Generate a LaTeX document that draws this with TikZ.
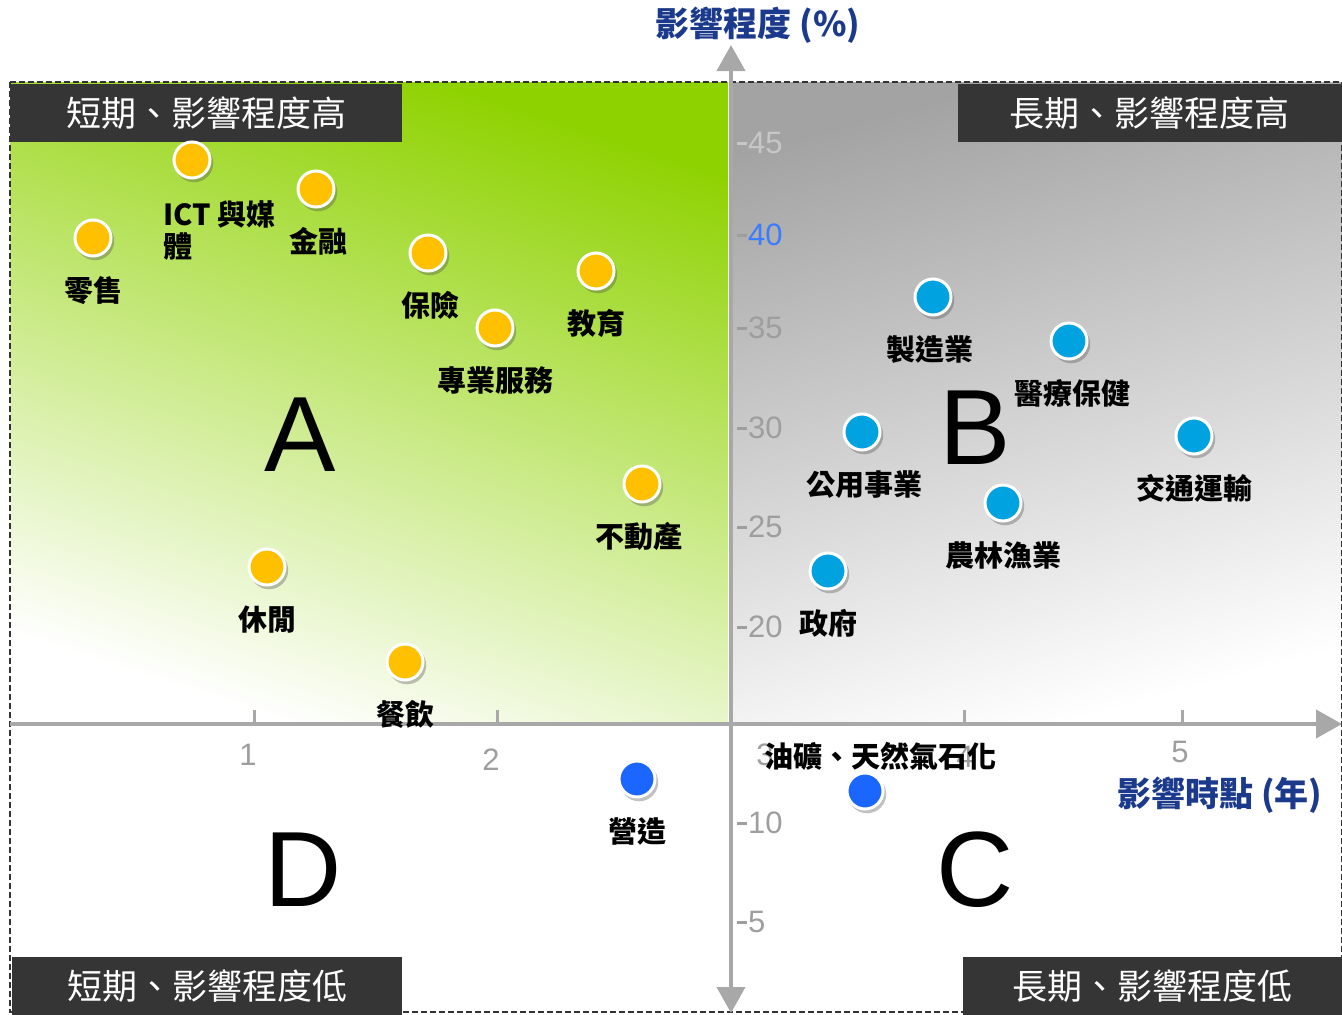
\documentclass[tikz,border=0pt]{standalone}
\usepackage{fontspec}
\setmainfont{Liberation Sans}
\newfontfamily\cjk{Noto Sans CJK TC}
\usetikzlibrary{positioning,shadows,arrows.meta}

\definecolor{dotyellow}{HTML}{FFC000}
\definecolor{dotcyan}{HTML}{00A3DF}
\definecolor{dotblue}{HTML}{1A66FF}
\definecolor{axisgray}{HTML}{A8A8A8}
\definecolor{titleblue}{HTML}{1B3A8C}
\definecolor{boxdark}{HTML}{353535}
\definecolor{leafgreen}{HTML}{8ED200}
\definecolor{tickblue}{HTML}{3B7BFF}

\begin{document}
\begin{tikzpicture}[
    x=1pt, y=-1pt,
    dot/.style={
        circle,
        minimum size=36pt,
        inner sep=0pt,
        draw=white,
        line width=3pt,
        drop shadow={shadow xshift=2pt, shadow yshift=-3pt, shadow scale=1.06, opacity=0.35, fill=black!70}
    },
    lab/.style={inner sep=0pt, font=\cjk\bfseries\fontsize{29}{32}\selectfont},
    quadbox/.style={
        fill=boxdark,
        text=white,
        minimum height=58pt,
        inner sep=0pt,
        font=\cjk\fontsize{35}{38}\selectfont
    },
    letter/.style={inner sep=0pt, font=\fontsize{107}{110}\selectfont},
    axtitle/.style={inner sep=0pt, text=titleblue, font=\cjk\bfseries\fontsize{34}{38}\selectfont},
    ticklab/.style={inner sep=0pt, text=black!38, font=\fontsize{31}{33}\selectfont},
    axis/.style={draw=axisgray, line width=4pt},
    tip/.tip={Triangle[width=28pt, length=26pt]}
]

\useasboundingbox (0,0) rectangle (1342,1015);

% Quadrant backgrounds
\shade[top color=leafgreen, bottom color=white, shading angle=-18] (10,82) rectangle (728,724);
\shade[top color=black!36, bottom color=white, shading angle=15] (730,82) rectangle (1342,724);
\draw[black!80, line width=2pt, dash pattern=on 6pt off 3pt] (10,82) rectangle (1342,1012);

% Axes
\coordinate (xstart) at (10,724);
\coordinate (xend) at (1342,724);
\coordinate (ybottom) at (731,1013);
\coordinate (ytop) at (731,45);
\draw[axis, -tip] (xstart) -- (xend);
\draw[axis, tip-tip] (ybottom) -- (ytop);

% Ticks on the time axis
\draw[axisgray, line width=3pt] (254,710) -- (254,724);
\draw[axisgray, line width=3pt] (497,710) -- (497,724);
\draw[axisgray, line width=3pt] (964,710) -- (964,724);
\draw[axisgray, line width=3pt] (1182,710) -- (1182,724);
\node[ticklab] (xt1) at (248,755) {1};
\node[ticklab] (xt2) at (491,760) {2};
\node[ticklab] (xt3) at (765,755) {3};
\node[ticklab] (xt4) at (965,757) {4};
\node[ticklab] (xt5) at (1180,752) {5};

% Ticks on the degree axis
\draw[black!22, line width=3pt] (737,143) -- (747,143);
\draw[black!38, line width=3pt] (737,235) -- (747,235);
\draw[black!38, line width=3pt] (737,328) -- (747,328);
\draw[black!38, line width=3pt] (737,428) -- (747,428);
\draw[black!38, line width=3pt] (737,527) -- (747,527);
\draw[black!38, line width=3pt] (737,627) -- (747,627);
\draw[black!38, line width=3pt] (737,823) -- (747,823);
\draw[black!38, line width=3pt] (737,922) -- (747,922);
\node[ticklab, anchor=west, text=black!22] (yt45) at (748,143) {45};
\node[ticklab, anchor=west, text=tickblue] (yt40) at (748,235) {40};
\node[ticklab, anchor=west] (yt35) at (748,328) {35};
\node[ticklab, anchor=west] (yt30) at (748,428) {30};
\node[ticklab, anchor=west] (yt25) at (748,527) {25};
\node[ticklab, anchor=west] (yt20) at (748,627) {20};
\node[ticklab, anchor=west] (yt10) at (748,823) {10};
\node[ticklab, anchor=west] (yt5) at (748,922) {5};

% Axis titles
\node[axtitle] (ytitle) at (758,25) {影響程度 (\%)};
\node[axtitle] (xtitle) at (1220,795) {影響時點 (年)};

% Corner boxes
\node[quadbox, minimum width=392pt, anchor=north west] (qhighshort) at (10,84) {短期、影響程度高};
\node[quadbox, minimum width=384pt, anchor=north east] (qhighlong) at (1342,84) {長期、影響程度高};
\node[quadbox, minimum width=390pt, anchor=south west] (qlowshort) at (12,1015) {短期、影響程度低};
\node[quadbox, minimum width=379pt, anchor=south east] (qlowlong) at (1342,1015) {長期、影響程度低};

% Quadrant letters
\node[letter] (qa) at (300,435) {A};
\node[letter] (qb) at (975,428) {B};
\node[letter] (qc) at (975,870) {C};
\node[letter] (qd) at (303,870) {D};

% Short term, high impact
\node[dot, fill=dotyellow] (retail) at (93,238) {};
\node[lab, below=19pt of retail] (retaillab) {零售};
\node[dot, fill=dotyellow] (ict) at (192,160) {};
\node[lab, align=left, anchor=west] (ictlab) at (163,231) {ICT 與媒\\體};
\node[dot, fill=dotyellow] (finance) at (316,189) {};
\node[lab, below=19pt of finance, xshift=2pt] (financelab) {金融};
\node[dot, fill=dotyellow] (insure) at (428,253) {};
\node[lab, below=19pt of insure, xshift=2pt] (insurelab) {保險};
\node[dot, fill=dotyellow] (service) at (495,328) {};
\node[lab, below=19pt of service] (servicelab) {專業服務};
\node[dot, fill=dotyellow] (edu) at (596,271) {};
\node[lab, below=19pt of edu] (edulab) {教育};
\node[dot, fill=dotyellow] (estate) at (642,484) {};
\node[lab, below=19pt of estate, xshift=-3pt] (estatelab) {不動產};
\node[dot, fill=dotyellow] (leisure) at (267,567) {};
\node[lab, below=19pt of leisure] (leisurelab) {休閒};
\node[dot, fill=dotyellow] (food) at (405,662) {};
\node[lab, below=19pt of food] (foodlab) {餐飲};

% Long term, high impact
\node[dot, fill=dotcyan] (mfg) at (933,297) {};
\node[lab, below=19pt of mfg, xshift=-3pt] (mfglab) {製造業};
\node[dot, fill=dotcyan] (health) at (1069,341) {};
\node[lab, below=19pt of health, xshift=3pt] (healthlab) {醫療保健};
\node[dot, fill=dotcyan] (utility) at (862,432) {};
\node[lab, below=19pt of utility, xshift=2pt] (utilitylab) {公用事業};
\node[dot, fill=dotcyan] (transport) at (1194,436) {};
\node[lab, below=19pt of transport] (transportlab) {交通運輸};
\node[dot, fill=dotcyan] (agri) at (1003,503) {};
\node[lab, below=19pt of agri] (agrilab) {農林漁業};
\node[dot, fill=dotcyan] (gov) at (828,571) {};
\node[lab, below=19pt of gov] (govlab) {政府};

% Low impact
\node[dot, fill=dotblue] (build) at (637,779) {};
\node[lab, below=19pt of build] (buildlab) {營造};
\node[dot, fill=dotblue] (oil) at (865,791) {};
\node[lab, above=1pt of oil, xshift=15pt] (oillab) {油礦、天然氣石化};

\end{tikzpicture}
\end{document}
